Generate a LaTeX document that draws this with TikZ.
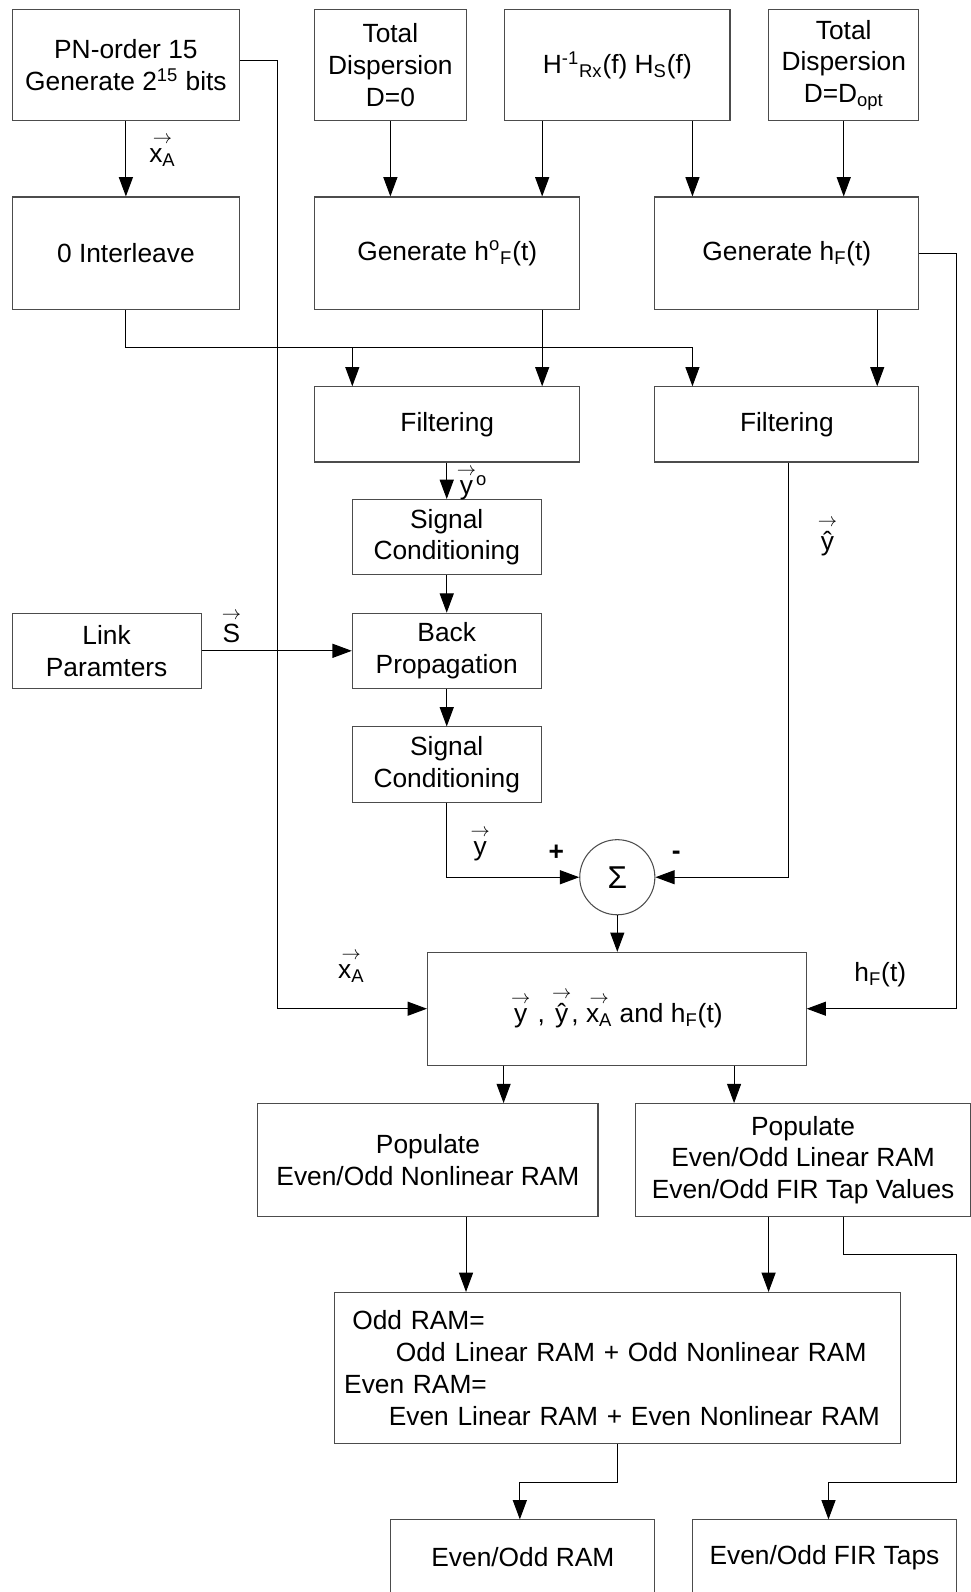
\documentclass[tikz,border=0pt]{standalone}
\usepackage{fontspec}
\setmainfont{Liberation Sans}
\usepackage{amsmath}
\usetikzlibrary{arrows.meta,calc}
\newcommand{\pxu}{0.02032cm}
\newcommand{\vecarr}[1]{$\overset{\scriptstyle\rightarrow}{\hbox{#1}}$}

\begin{document}
\begin{tikzpicture}[x=\pxu, y=-\pxu, font=\fontsize{15}{18}\selectfont,
    blk/.style 2 args={rectangle, draw=black!70, line width=0.6pt,
      minimum width=#1*\pxu, minimum height=#2*\pxu, inner sep=0pt, align=center},
    arr/.style={-{Triangle[length=11pt,width=8pt]}, line width=0.6pt},
    wire/.style={line width=0.6pt}]
  \useasboundingbox (0,0) rectangle (956,1568);

  % top row
  \node[blk={224}{110}] (pn) at (124,64) {PN-order 15\\Generate 2\textsuperscript{15} bits};
  \node[blk={149}{110}] (dzero) at (384.5,64) {Total\\Dispersion\\D=0};
  \node[blk={222}{110}] (hrx) at (608,64) {H\textsuperscript{-1}\textsubscript{Rx}(f) H\textsubscript{S}(f)};
  \node[blk={148}{110}] (dopt) at (831,64) {Total\\Dispersion\\D=D\textsubscript{opt}};

  % second row
  \node[blk={224}{111}] (intl) at (124,249.5) {0 Interleave};
  \node[blk={261}{111}] (genho) at (440.5,249.5) {Generate h\textsuperscript{o}\textsubscript{F}(t)};
  \node[blk={260}{111}] (genhf) at (775,249.5) {Generate h\textsubscript{F}(t)};

  % filtering and back propagation
  \node[blk={261}{74}] (filt1) at (440.5,418) {Filtering};
  \node[blk={260}{74}] (filt2) at (775,418) {Filtering};
  \node[blk={186}{74}] (sc1) at (440,529) {Signal\\Conditioning};
  \node[blk={186}{74}] (bp) at (440,641) {Back\\Propagation};
  \node[blk={186}{74}] (link) at (105,641) {Link\\Paramters};
  \node[blk={186}{74}] (sc2) at (440,753) {Signal\\Conditioning};
  \node[circle, draw=black!70, line width=0.6pt, minimum size=74*\pxu, inner sep=0pt,
        font=\fontsize{18}{20}\selectfont] (sum) at (608,864) {Σ};

  % lower part
  \node[blk={373}{111}] (comb) at (607.5,993.5)
    {\vecarr{y} , \vecarr{ŷ}, \vecarr{x\textsubscript{A}} and h\textsubscript{F}(t)};
  \node[blk={335}{111}] (popnl) at (421.5,1142.5) {Populate\\Even/Odd Nonlinear RAM};
  \node[blk={330}{111}] (popl) at (791,1142.5) {Populate\\Even/Odd Linear RAM\\Even/Odd FIR Tap Values};
  \node[blk={558}{149}, text width=538*\pxu, inner xsep=10*\pxu, align=left,
        font=\fontsize{15}{18.2}\selectfont] (ram) at (608,1347.5)
    {\hspace*{4.6pt}Odd RAM=\\\hspace*{29.5pt}Odd Linear RAM + Odd Nonlinear RAM\\Even RAM=\\\hspace*{25.4pt}Even Linear RAM + Even Nonlinear RAM};
  \node[blk={260}{74}] (eoram) at (515,1534) {Even/Odd RAM};
  \node[blk={260}{74}] (firtaps) at (812,1534) {Even/Odd FIR Taps};

  % labels
  \node (lxa1) at (160,148) {\vecarr{x\textsubscript{A}}};
  \node (ls) at (228,617) {\vecarr{S}};
  \node (lyo) at (465,476) {\vecarr{y}\textsuperscript{o}};
  \node (lyh) at (815,528) {\vecarr{ŷ}};
  \node (ly) at (473,831) {\vecarr{y}};
  \node (lplus) at (548,840) {\textbf{+}};
  \node (lminus) at (666,842) {\textbf{-}};
  \node (lxa2) at (346,952) {\vecarr{x\textsubscript{A}}};
  \node (lhf) at (867,960) {h\textsubscript{F}(t)};

  % connectors
  \coordinate (busL) at (347,342);
  \coordinate (busR) at (682,342);
  \coordinate (rbus) at (942,0);
  \draw[arr] (pn) -- (intl);
  \draw[arr] (dzero.south) -- (genho.north -| dzero.south);
  \draw[arr] (hrx.south -| 534,0) -- (genho.north -| 534,0);
  \draw[arr] (hrx.south -| 682,0) -- (genhf.north -| 682,0);
  \draw[arr] (dopt.south) -- (genhf.north -| dopt.south);
  \draw[arr] (pn.east |- 0,60) -| (comb.west -| 273,0) -- (comb.west);
  \draw[wire] (intl.south) |- (busR);
  \draw[arr] (busL) -- (filt1.north -| busL);
  \draw[arr] (busR) -- (filt2.north -| busR);
  \draw[arr] (genho.south -| 534,0) -- (filt1.north -| 534,0);
  \draw[arr] (genhf.south -| 864,0) -- (filt2.north -| 864,0);
  \draw[arr] (genhf.east) -| (rbus |- comb.east) -- (comb.east);
  \draw[arr] (filt1.south -| sc1.north) -- (sc1.north);
  \draw[arr] (sc1) -- (bp);
  \draw[arr] (bp) -- (sc2);
  \draw[arr] (link) -- (bp);
  \draw[arr] (sc2.south) |- (sum.west);
  \draw[arr] (filt2.south -| 777,0) |- (sum.east);
  \draw[arr] (sum.south) -- (comb.north -| sum.south);
  \draw[arr] (comb.south -| 496,0) -- (popnl.north -| 496,0);
  \draw[arr] (comb.south -| 723,0) -- (popl.north -| 723,0);
  \draw[arr] (popnl.south -| 459,0) -- (ram.north -| 459,0);
  \draw[arr] (popl.south -| 757,0) -- (ram.north -| 757,0);
  \draw[arr] (popl.south -| 831,0) |- (942,1236) |- (816,1460) -- (firtaps.north -| 816,0);
  \draw[arr] (ram.south) |- (512,1460) -- (eoram.north -| 512,0);
\end{tikzpicture}
\end{document}
